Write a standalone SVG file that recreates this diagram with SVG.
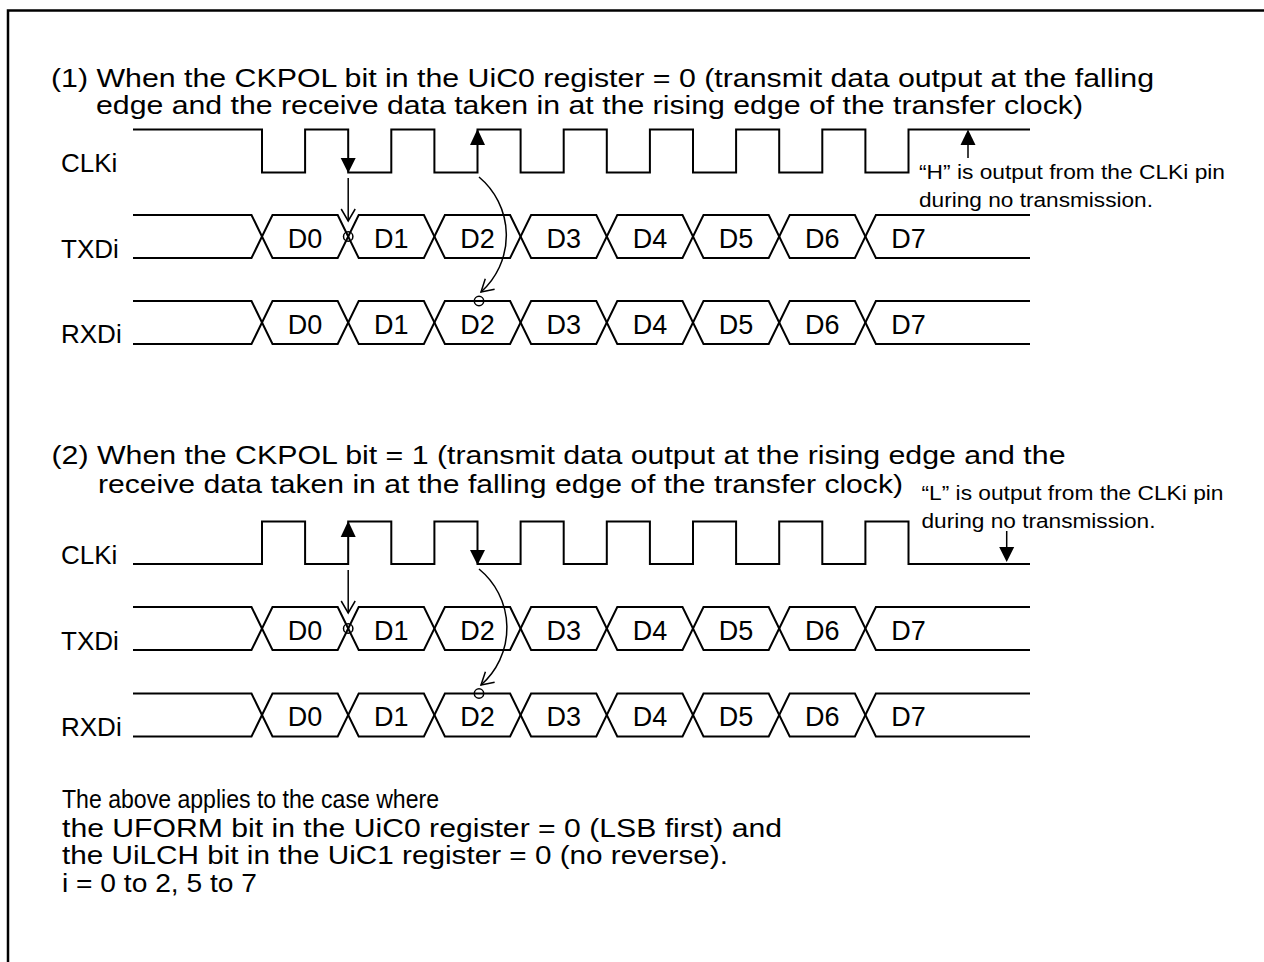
<svg xmlns="http://www.w3.org/2000/svg" width="1264" height="962" viewBox="0 0 1264 962">
<style>
 text { font-family: "Liberation Sans", Arial, sans-serif; fill:#000; }
 .title { font-size:26px; }
 .lbl { font-size:26px; }
 .d { font-size:27px; text-anchor:middle; }
 .note { font-size:20px; }
 .foot { font-size:25px; }
 .wave { fill:none; stroke:#000; stroke-width:2; }
 .thin { fill:none; stroke:#000; stroke-width:1.5; }
 .head { fill:#000; stroke:none; }
 .ring { fill:none; stroke:#000; stroke-width:1.5; }
</style>
<defs>
 <marker id="open" markerUnits="userSpaceOnUse" markerWidth="20" markerHeight="20" viewBox="-16 -10 20 20" refX="0" refY="0" orient="auto">
   <path d="M-12,-7 L0,0 L-12,7" fill="none" stroke="#000" stroke-width="1.5"/>
 </marker>
 <path id="railA" d="M133,0 H251.5 L272.5,43 H337.7 L358.7,0 H423.9 L444.9,43 H510.1 L531.1,0 H596.3 L617.3,43 H682.5 L703.5,0 H768.7 L789.7,43 H854.9 L875.9,0 H1030"/>
 <path id="railB" d="M133,43 H251.5 L272.5,0 H337.7 L358.7,43 H423.9 L444.9,0 H510.1 L531.1,43 H596.3 L617.3,0 H682.5 L703.5,43 H768.7 L789.7,0 H854.9 L875.9,43 H1030"/>
</defs>
<rect x="0" y="0" width="1264" height="962" fill="#fff"/>
<path d="M8,962 V10.5 H1264" fill="none" stroke="#000" stroke-width="2.5"/>

<g id="section1">
 <g id="title1">
  <text class="title" x="51" y="87" textLength="1103" lengthAdjust="spacingAndGlyphs">(1) When the CKPOL bit in the UiC0 register = 0 (transmit data output at the falling</text>
  <text class="title" x="96" y="113.5" textLength="987" lengthAdjust="spacingAndGlyphs">edge and the receive data taken in at the rising edge of the transfer clock)</text>
 </g>
 <g id="clk1">
  <text class="lbl" x="61" y="172">CLKi</text>
  <path class="wave" d="M133,129.5 H262 V172.5 H305.1 V129.5 H348.2 V172.5 H391.3 V129.5 H434.4 V172.5 H477.5 V129.5 H520.6 V172.5 H563.7 V129.5 H606.8 V172.5 H649.9 V129.5 H693 V172.5 H736.1 V129.5 H779.2 V172.5 H822.3 V129.5 H865.4 V172.5 H908.5 V129.5 H1030"/>
 </g>
 <g id="txd1">
  <text class="lbl" x="61" y="258">TXDi</text>
  <use href="#railA" class="wave" transform="translate(0,215)"/>
  <use href="#railB" class="wave" transform="translate(0,215)"/>
  <text class="d" x="305.1" y="248">D0</text><text class="d" x="391.3" y="248">D1</text><text class="d" x="477.5" y="248">D2</text><text class="d" x="563.7" y="248">D3</text><text class="d" x="649.9" y="248">D4</text><text class="d" x="736.1" y="248">D5</text><text class="d" x="822.3" y="248">D6</text><text class="d" x="908.5" y="248">D7</text>
 </g>
 <g id="rxd1">
  <text class="lbl" x="61" y="343">RXDi</text>
  <use href="#railA" class="wave" transform="translate(0,301)"/>
  <use href="#railB" class="wave" transform="translate(0,301)"/>
  <text class="d" x="305.1" y="334">D0</text><text class="d" x="391.3" y="334">D1</text><text class="d" x="477.5" y="334">D2</text><text class="d" x="563.7" y="334">D3</text><text class="d" x="649.9" y="334">D4</text><text class="d" x="736.1" y="334">D5</text><text class="d" x="822.3" y="334">D6</text><text class="d" x="908.5" y="334">D7</text>
 </g>
 <g id="note1">
  <text class="note" x="919" y="179" textLength="306" lengthAdjust="spacingAndGlyphs">“H” is output from the CLKi pin</text>
  <text class="note" x="919" y="207" textLength="234" lengthAdjust="spacingAndGlyphs">during no transmission.</text>
 </g>
</g>

<g id="section2">
 <g id="title2">
  <text class="title" x="51.5" y="464" textLength="1014" lengthAdjust="spacingAndGlyphs">(2) When the CKPOL bit = 1 (transmit data output at the rising edge and the</text>
  <text class="title" x="98" y="493" textLength="805" lengthAdjust="spacingAndGlyphs">receive data taken in at the falling edge of the transfer clock)</text>
 </g>
 <g id="clk2">
  <text class="lbl" x="61" y="564">CLKi</text>
  <path class="wave" d="M133,564 H262 V521.5 H305.1 V564 H348.2 V521.5 H391.3 V564 H434.4 V521.5 H477.5 V564 H520.6 V521.5 H563.7 V564 H606.8 V521.5 H649.9 V564 H693 V521.5 H736.1 V564 H779.2 V521.5 H822.3 V564 H865.4 V521.5 H908.5 V564 H1030"/>
 </g>
 <g id="txd2">
  <text class="lbl" x="61" y="650">TXDi</text>
  <use href="#railA" class="wave" transform="translate(0,607)"/>
  <use href="#railB" class="wave" transform="translate(0,607)"/>
  <text class="d" x="305.1" y="640">D0</text><text class="d" x="391.3" y="640">D1</text><text class="d" x="477.5" y="640">D2</text><text class="d" x="563.7" y="640">D3</text><text class="d" x="649.9" y="640">D4</text><text class="d" x="736.1" y="640">D5</text><text class="d" x="822.3" y="640">D6</text><text class="d" x="908.5" y="640">D7</text>
 </g>
 <g id="rxd2">
  <text class="lbl" x="61" y="736">RXDi</text>
  <use href="#railA" class="wave" transform="translate(0,693.5)"/>
  <use href="#railB" class="wave" transform="translate(0,693.5)"/>
  <text class="d" x="305.1" y="726">D0</text><text class="d" x="391.3" y="726">D1</text><text class="d" x="477.5" y="726">D2</text><text class="d" x="563.7" y="726">D3</text><text class="d" x="649.9" y="726">D4</text><text class="d" x="736.1" y="726">D5</text><text class="d" x="822.3" y="726">D6</text><text class="d" x="908.5" y="726">D7</text>
 </g>
 <g id="note2">
  <text class="note" x="921.5" y="500" textLength="302" lengthAdjust="spacingAndGlyphs">“L” is output from the CLKi pin</text>
  <text class="note" x="921.5" y="528" textLength="234" lengthAdjust="spacingAndGlyphs">during no transmission.</text>
 </g>
</g>

<g id="connectors">
 <polygon class="head" points="340.7,158 355.7,158 348.2,173"/>
 <path class="thin" d="M348.2,178 V221" marker-end="url(#open)"/>
 <circle class="ring" cx="348.2" cy="236.5" r="4.7"/>
 <polygon class="head" points="470,145 485,145 477.5,129"/>
 <path class="thin" d="M479,177 A76,76 0 0,1 481,292" marker-end="url(#open)"/>
 <circle class="ring" cx="479" cy="301" r="4.7"/>
 <path class="thin" d="M968,158 V143"/>
 <polygon class="head" points="960.5,145 975.5,145 968,129.5"/>

 <polygon class="head" points="340.7,537 355.7,537 348.2,521"/>
 <path class="thin" d="M348.2,570 V613" marker-end="url(#open)"/>
 <circle class="ring" cx="348.2" cy="628.5" r="4.7"/>
 <polygon class="head" points="470,550 485,550 477.5,565"/>
 <path class="thin" d="M479,569 A76,76 0 0,1 481,685" marker-end="url(#open)"/>
 <circle class="ring" cx="479" cy="693.5" r="4.7"/>
 <path class="thin" d="M1006.7,531 V549"/>
 <polygon class="head" points="999.2,547 1014.2,547 1006.7,562"/>
</g>

<g id="footnote">
 <text class="foot" x="62" y="808" textLength="377" lengthAdjust="spacingAndGlyphs">The above applies to the case where</text>
 <text class="foot" x="62" y="836.5" textLength="720" lengthAdjust="spacingAndGlyphs">the UFORM bit in the UiC0 register = 0 (LSB first) and</text>
 <text class="foot" x="62" y="864" textLength="666" lengthAdjust="spacingAndGlyphs">the UiLCH bit in the UiC1 register = 0 (no reverse).</text>
 <text class="foot" x="62" y="891.5" textLength="195" lengthAdjust="spacingAndGlyphs">i = 0 to 2, 5 to 7</text>
</g>
</svg>
